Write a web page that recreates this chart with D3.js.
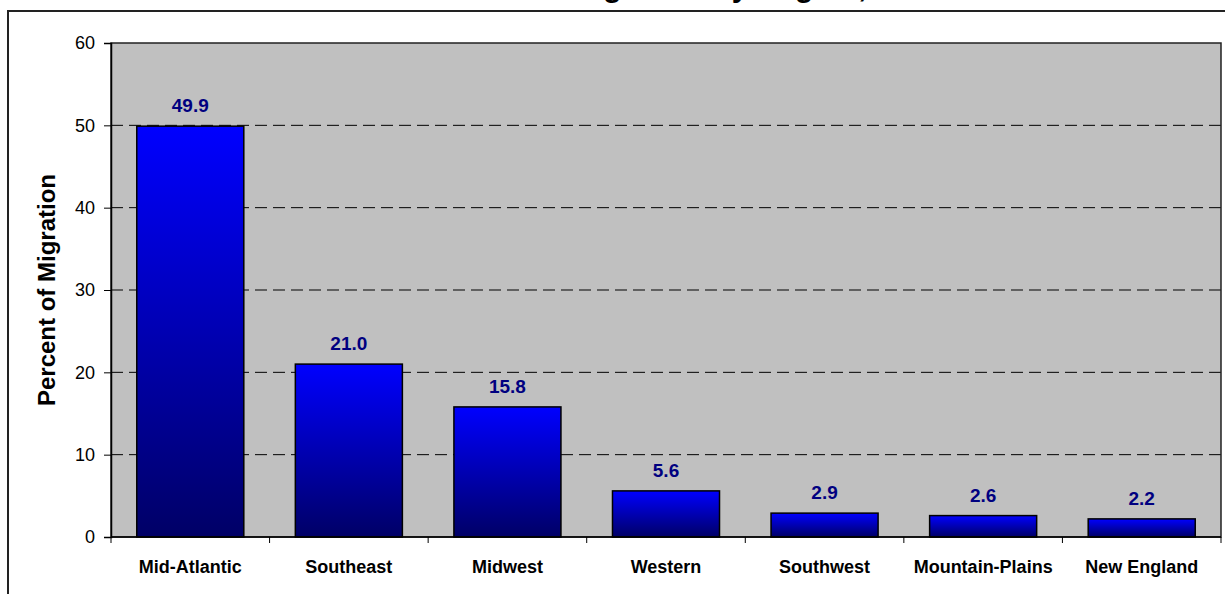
<!DOCTYPE html>
<html>
<head>
<meta charset="utf-8">
<script src="https://cdn.jsdelivr.net/npm/d3@7"></script>
<style>
  html, body { margin: 0; padding: 0; background: #fff; }
  svg { display: block; font-family: Arial, "Liberation Sans", sans-serif; }
</style>
</head>
<body>
<svg id="chart" width="1225" height="594"></svg>
<script>
// Regions and their share of migration (percent)
const regions = ["Mid-Atlantic", "Southeast", "Midwest", "Western", "Southwest", "Mountain-Plains", "New England"];
const shares = [49.9, 21.0, 15.8, 5.6, 2.9, 2.6, 2.2];
const yTicks = [0, 10, 20, 30, 40, 50, 60];

const titleText = "Percent of Migration by Region, 2000";
const yTitle = "Percent of Migration";

const svg = d3.select("#chart");
const plot = { left: 111, right: 1221, top: 43, bottom: 537 };

// outer chart frame (extends past the page edge)
svg.append("rect")
  .attr("x", 8).attr("y", 11)
  .attr("width", 1300).attr("height", 700)
  .attr("fill", "#fff")
  .attr("stroke", "#222").attr("stroke-width", 2);

// title, mostly above the visible page
svg.append("text")
  .attr("x", 415).attr("y", -3)
  .attr("font-size", 30).attr("font-weight", "bold")
  .attr("fill", "#000")
  .text(titleText);

const x = d3.scaleBand()
  .domain(regions)
  .range([plot.left, plot.right])
  .paddingInner(0.325)
  .paddingOuter(0.1625);

const y = d3.scaleLinear()
  .domain([0, 60])
  .range([plot.bottom, plot.top]);

// vertical gradient used by every bar
const defs = svg.append("defs");
const grad = defs.append("linearGradient")
  .attr("id", "barFill")
  .attr("x1", 0).attr("y1", 0).attr("x2", 0).attr("y2", 1);
grad.append("stop").attr("offset", "0%").attr("stop-color", "#0000ff");
grad.append("stop").attr("offset", "100%").attr("stop-color", "#000066");

// plot background
svg.append("rect")
  .attr("x", plot.left).attr("y", plot.top)
  .attr("width", plot.right - plot.left).attr("height", plot.bottom - plot.top)
  .attr("fill", "#c0c0c0");

// dashed gridlines
svg.append("g")
  .selectAll("line")
  .data(yTicks.filter(t => t > 0 && t < 60))
  .join("line")
  .attr("x1", plot.left).attr("x2", plot.right)
  .attr("y1", d => y(d)).attr("y2", d => y(d))
  .attr("stroke", "#000").attr("stroke-width", 1)
  .attr("stroke-dasharray", "12,6");

// plot frame
svg.append("rect")
  .attr("x", plot.left).attr("y", plot.top)
  .attr("width", plot.right - plot.left).attr("height", plot.bottom - plot.top)
  .attr("fill", "none")
  .attr("stroke", "#222").attr("stroke-width", 1.5);

// bars
svg.append("g")
  .selectAll("rect")
  .data(regions)
  .join("rect")
  .attr("x", d => x(d))
  .attr("width", x.bandwidth())
  .attr("y", (d, i) => y(shares[i]))
  .attr("height", (d, i) => y(0) - y(shares[i]))
  .attr("fill", "url(#barFill)")
  .attr("stroke", "#000").attr("stroke-width", 1.5);

// value labels
svg.append("g")
  .selectAll("text")
  .data(regions)
  .join("text")
  .attr("x", d => x(d) + x.bandwidth() / 2)
  .attr("y", (d, i) => y(shares[i]) - 14)
  .attr("text-anchor", "middle")
  .attr("font-size", 19).attr("font-weight", "bold")
  .attr("fill", "#000080")
  .text((d, i) => shares[i].toFixed(1));

// y axis
const yAxis = d3.axisLeft(y).tickValues(yTicks).tickSize(7).tickPadding(9);
const yg = svg.append("g")
  .attr("transform", `translate(${plot.left},0)`)
  .call(yAxis);
yg.select(".domain").attr("stroke", "#000").attr("stroke-width", 1.5);
yg.selectAll(".tick line").attr("stroke", "#000");
yg.selectAll(".tick text")
  .attr("font-size", 18).attr("font-family", "Arial, 'Liberation Sans', sans-serif")
  .attr("fill", "#000");

// x axis: ticks at category boundaries
const step = x.step();
const boundaries = d3.range(regions.length + 1).map(i => plot.left + i * step);
svg.append("line")
  .attr("x1", plot.left).attr("x2", plot.right)
  .attr("y1", plot.bottom).attr("y2", plot.bottom)
  .attr("stroke", "#000").attr("stroke-width", 1.5);
svg.append("g")
  .selectAll("line")
  .data(boundaries)
  .join("line")
  .attr("x1", d => d).attr("x2", d => d)
  .attr("y1", plot.bottom).attr("y2", plot.bottom + 6)
  .attr("stroke", "#000");

svg.append("g")
  .selectAll("text")
  .data(regions)
  .join("text")
  .attr("x", d => x(d) + x.bandwidth() / 2)
  .attr("y", plot.bottom + 36)
  .attr("text-anchor", "middle")
  .attr("font-size", 18).attr("font-weight", "bold")
  .attr("fill", "#000")
  .text(d => d);

// y axis title
svg.append("text")
  .attr("transform", `translate(55,${(plot.top + plot.bottom) / 2}) rotate(-90)`)
  .attr("text-anchor", "middle")
  .attr("font-size", 24).attr("font-weight", "bold")
  .attr("fill", "#000")
  .text(yTitle);
</script>
</body>
</html>
